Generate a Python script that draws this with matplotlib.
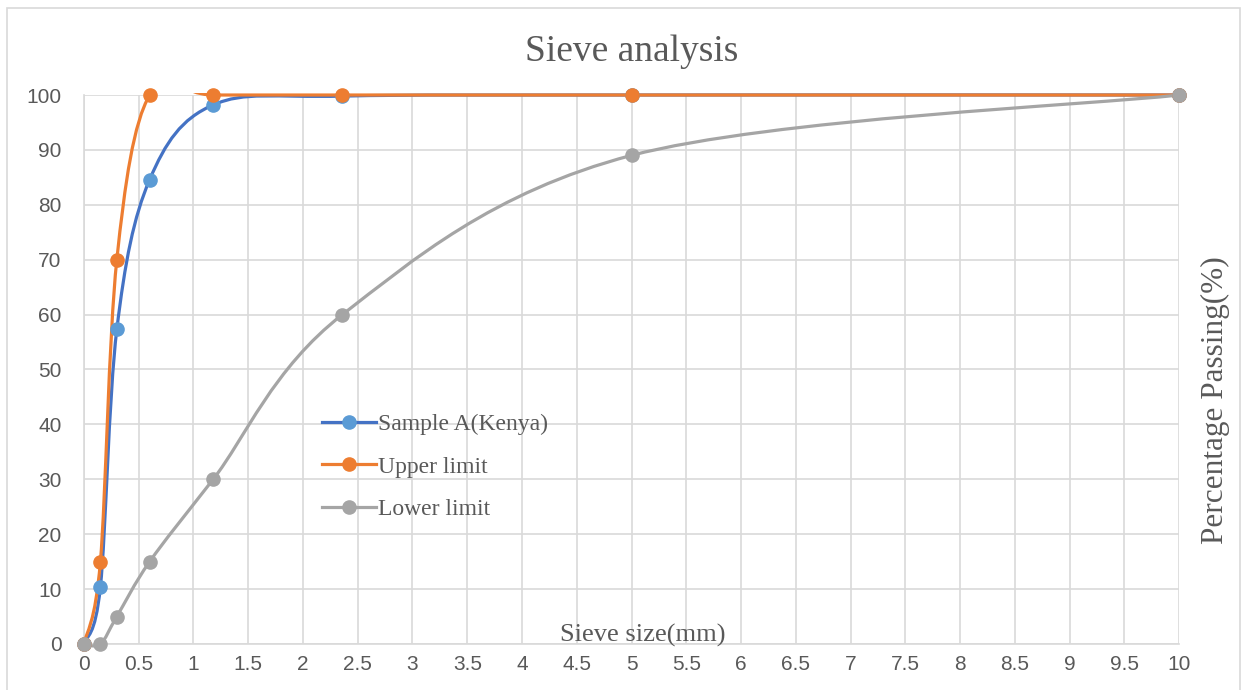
import numpy as np
import matplotlib
matplotlib.use("Agg")
import matplotlib.pyplot as plt
from matplotlib.path import Path
from matplotlib.patches import PathPatch, Rectangle

# Data
sieve_size = [0, 0.15, 0.3, 0.6, 1.18, 2.36, 5, 10]
sample_a = [0, 10.4, 57.3, 84.6, 98.2, 99.8, 100, 100]
upper_limit = [0, 15, 70, 100, 100, 100, 100, 100]
lower_limit = [0, 0, 5, 15, 30, 60, 89, 100]

serie_navn = ["Sample A(Kenya)", "Upper limit", "Lower limit"]
linje_farger = ["#4472C4", "#ED7D31", "#A5A5A5"]
punkt_farger = ["#5B9BD5", "#ED7D31", "#A5A5A5"]
tekst_farge = "#595959"


def glatt_sti(x, y):
    # Bezier-kurve lik Excel sin "smoothed line"
    p = np.column_stack([x, y]).astype(float)
    n = len(p)
    verts = [p[0]]
    codes = [Path.MOVETO]
    for i in range(n - 1):
        p0 = p[i - 1] if i > 0 else p[i]
        p3 = p[i + 2] if i + 2 < n else p[i + 1]
        c1 = p[i] + (p[i + 1] - p0) / 6
        c2 = p[i + 1] - (p3 - p[i]) / 6
        verts += [c1, c2, p[i + 1]]
        codes += [Path.CURVE4] * 3
    return Path(verts, codes)


fig = plt.figure(figsize=(12.44, 6.9), dpi=100)
ax = fig.add_axes([0.0675, 0.0667, 0.8803, 0.7956])

ax.set_xlim(0, 10)
ax.set_ylim(0, 100)

# klipper litt over 100 så linja på toppen får full tykkelse
klipp = Rectangle((-0.2, -2), 10.4, 102.3, transform=ax.transData, visible=False)
ax.add_patch(klipp)

alle_serier = [sample_a, upper_limit, lower_limit]
for navn, verdier, lf, pf in zip(serie_navn, alle_serier, linje_farger, punkt_farger):
    sti = glatt_sti(sieve_size, verdier)
    kurve = PathPatch(sti, facecolor="none", edgecolor=lf, lw=2.3, zorder=3,
                      capstyle="round")
    ax.add_patch(kurve)
    kurve.set_clip_path(klipp)
    ax.plot(sieve_size, verdier, linestyle="none", marker="o", markersize=9.5,
            color=pf, zorder=4, clip_on=False)
    # kun for legenden
    ax.plot([], [], color=lf, lw=2.3, marker="o", markersize=9.5,
            markerfacecolor=pf, markeredgecolor=pf, label=navn)

ax.set_xticks(np.arange(0, 10.01, 0.5))
ax.set_xticklabels([f"{v:g}" for v in np.arange(0, 10.01, 0.5)])
ax.set_yticks(np.arange(0, 101, 10))
ax.grid(True, color="#D9D9D9", lw=1.2)
ax.set_axisbelow(True)
for side in ["top", "right"]:
    ax.spines[side].set_visible(False)
for side in ["left", "bottom"]:
    ax.spines[side].set_color("#D9D9D9")
    ax.spines[side].set_linewidth(1.2)
ax.tick_params(length=0, labelsize=15, colors=tekst_farge)
ax.tick_params(axis="y", pad=16)
ax.tick_params(axis="x", pad=8)
for lab in ax.get_xticklabels() + ax.get_yticklabels():
    lab.set_fontfamily("Liberation Sans")

fig.text(0.508, 0.925, "Sieve analysis", fontsize=27, color=tekst_farge,
         family="Liberation Serif", ha="center", va="center")
ax.text(5.1, 0.5, "Sieve size(mm)", fontsize=19, color=tekst_farge,
        family="Liberation Serif", ha="center", va="baseline")
fig.text(0.977, 0.42, "Percentage Passing(%)", fontsize=22.5, color=tekst_farge,
         family="Liberation Serif", rotation=90, ha="center", va="center")

ax.legend(loc="upper left", bbox_to_anchor=(0.198, 0.458), frameon=False,
          prop={"family": "Liberation Serif", "size": 17}, labelcolor=tekst_farge,
          handlelength=2.3, handletextpad=0.05, labelspacing=0.88)

fig.patches.append(Rectangle((0.0056, -0.01), 0.991, 0.998, transform=fig.transFigure,
                             fill=False, edgecolor="#D9D9D9", lw=1.2))

fig.savefig("out.png", dpi=100)
